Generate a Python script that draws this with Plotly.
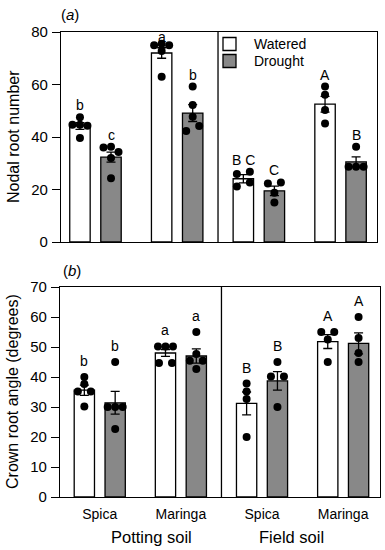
import plotly.graph_objects as go

# ---------------- data ----------------
groups = ["Spica", "Maringa", "Spica", "Maringa"]
soils = ["Potting soil", "Field soil"]
series = ["Watered", "Drought"]

# (a) Nodal root number
nodal_w_mean = [44.2, 72.0, 24.1, 52.5]
nodal_d_mean = [32.3, 49.1, 19.5, 30.5]
nodal_w_err = [1.3, 2.0, 1.6, 3.0]
nodal_d_err = [1.9, 3.2, 1.8, 1.9]
nodal_w_dots = [
    [47.5, 44.7, 44.7, 44.3, 39.6],
    [75.0, 75.5, 75.0, 72.8, 63.0],
    [25.9, 26.8, 21.1, 22.7],
    [59.2, 56.1, 50.3, 45.1],
]
nodal_d_dots = [
    [36.0, 36.3, 34.3, 32.0, 24.3],
    [59.2, 52.2, 47.7, 42.3, 44.2],
    [22.3, 22.7, 18.8, 15.0],
    [36.3, 28.7, 28.7, 28.7],
]
nodal_w_letters = ["b", "a", "B C", "A"]
nodal_d_letters = ["c", "b", "C", "B"]

# (b) Crown root angle
angle_w_mean = [35.6, 48.0, 31.2, 51.8]
angle_d_mean = [31.4, 47.0, 38.7, 51.2]
angle_w_err = [1.7, 1.1, 3.8, 2.3]
angle_d_err = [3.8, 2.4, 3.1, 3.5]
angle_w_dots = [
    [40.0, 37.7, 35.2, 35.2, 30.2],
    [50.2, 50.2, 50.2, 44.7, 44.7],
    [37.8, 35.2, 32.7, 20.0],
    [55.0, 55.0, 52.5, 45.0],
]
angle_d_dots = [
    [45.0, 30.0, 30.0, 30.0, 22.7],
    [55.0, 47.7, 45.4, 45.4, 42.7],
    [45.0, 40.2, 40.2, 30.0],
    [60.0, 53.0, 48.0, 45.0],
]
angle_w_letters = ["b", "a", "B", "A"]
angle_d_letters = ["b", "a", "B", "A"]

# ---------------- layout constants ----------------
W, H = 385, 550
FONT = "Liberation Sans, Arial, sans-serif"
GRAY = "#888888"
COLORS = ["white", GRAY]
LW = 1.3
OFF = 0.19
BW = 0.25

panels = [
    dict(xa="x", ya="y", xdom=[61 / W, 377 / W], ydom=[1 - 242 / H, 1 - 32 / H],
         xr=[-0.422, 3.446], yr=[0, 80], dtick=20,
         wm=nodal_w_mean, dm=nodal_d_mean, we=nodal_w_err, de=nodal_d_err,
         wd=nodal_w_dots, dd=nodal_d_dots, wl=nodal_w_letters, dl=nodal_d_letters,
         lshift=12),
    dict(xa="x2", ya="y2", xdom=[60 / W, 380 / W], ydom=[1 - 497 / H, 1 - 287 / H],
         xr=[-0.49, 3.454], yr=[0, 70], dtick=10,
         wm=angle_w_mean, dm=angle_d_mean, we=angle_w_err, de=angle_d_err,
         wd=angle_w_dots, dd=angle_d_dots, wl=angle_w_letters, dl=angle_d_letters,
         lshift=16),
]


def swarm(vals, ppy, row_px=6.5):
    """Horizontal pixel offsets: points whose values lie within row_px of the
    row's highest point share a row and are spread sideways."""
    order = sorted(range(len(vals)), key=lambda i: -vals[i])
    rows, cur = [], []
    for i in order:
        if cur and (vals[cur[0]] - vals[i]) * ppy > row_px:
            rows.append(cur)
            cur = []
        cur.append(i)
    if cur:
        rows.append(cur)
    offs = [0.0] * len(vals)
    for r in rows:
        r = sorted(r)
        n = len(r)
        sp = 13.0 if n == 2 else 7.5
        for k, i in enumerate(r):
            offs[i] = (k - (n - 1) / 2) * sp
    return offs


fig = go.Figure()
annotations = []
shapes = []

for p in panels:
    ppx = (p["xdom"][1] - p["xdom"][0]) * W / (p["xr"][1] - p["xr"][0])
    ppy = (p["ydom"][1] - p["ydom"][0]) * H / (p["yr"][1] - p["yr"][0])
    idx = list(range(len(groups)))
    for name, sign, means, errs, dots, letters, color in [
        (series[0], -1, p["wm"], p["we"], p["wd"], p["wl"], COLORS[0]),
        (series[1], 1, p["dm"], p["de"], p["dd"], p["dl"], COLORS[1]),
    ]:
        xs = [i + sign * OFF for i in idx]
        fig.add_trace(go.Bar(
            x=xs, y=means, width=BW, name=name, xaxis=p["xa"], yaxis=p["ya"],
            marker=dict(color=color, line=dict(color="black", width=LW)),
            error_y=dict(type="data", array=errs, color="black", thickness=LW, width=4.5),
            showlegend=False,
        ))
        dx, dy = [], []
        for i, vals in enumerate(dots):
            offs = swarm(vals, ppy)
            for v, o in zip(vals, offs):
                dx.append(xs[i] + o / ppx)
                dy.append(v)
        fig.add_trace(go.Scatter(
            x=dx, y=dy, mode="markers", xaxis=p["xa"], yaxis=p["ya"],
            marker=dict(color="black", size=8, line=dict(width=0)),
            showlegend=False, cliponaxis=False, hoverinfo="skip",
        ))
        for i, lab in enumerate(letters):
            top = max(max(dots[i]), means[i] + errs[i])
            ytxt = top + p["lshift"] / ppy
            ytxt = min(ytxt, p["yr"][1] - 5 / ppy)
            annotations.append(dict(
                x=xs[i], y=ytxt, xref=p["xa"], yref=p["ya"], text=lab,
                showarrow=False, font=dict(size=14, color="black", family=FONT),
                xanchor="center", yanchor="middle",
            ))
    shapes.append(dict(type="line", xref=p["xa"], yref=p["ya"], x0=1.5, x1=1.5,
                       y0=p["yr"][0], y1=p["yr"][1], line=dict(color="black", width=LW)))

# legend (drawn manually for exact spacing)
for k, (name, col) in enumerate(zip(series, COLORS)):
    yc = 44 + 17 * k
    shapes.append(dict(type="rect", xref="paper", yref="paper",
                       x0=223 / W, x1=236 / W, y0=1 - (yc + 6.5) / H, y1=1 - (yc - 6.5) / H,
                       fillcolor=col, line=dict(color="black", width=LW)))
    annotations.append(dict(x=252 / W, y=1 - yc / H, xref="paper", yref="paper", text=name,
                            showarrow=False, font=dict(size=14, color="black", family=FONT),
                            xanchor="left", yanchor="middle"))

# axis titles, panel labels and soil labels
annotations += [
    dict(x=14 / W, y=(panels[0]["ydom"][0] + panels[0]["ydom"][1]) / 2, xref="paper", yref="paper",
         text="Nodal root number", textangle=-90, showarrow=False,
         font=dict(size=16, color="black", family=FONT), xanchor="center", yanchor="middle"),
    dict(x=12 / W, y=(panels[1]["ydom"][0] + panels[1]["ydom"][1]) / 2, xref="paper", yref="paper",
         text="Crown root angle (degrees)", textangle=-90, showarrow=False,
         font=dict(size=16, color="black", family=FONT), xanchor="center", yanchor="middle"),
    dict(x=70 / W, y=1 - 15 / H, xref="paper", yref="paper", text="(<i>a</i>)", showarrow=False,
         font=dict(size=15, color="black", family=FONT), xanchor="center", yanchor="middle"),
    dict(x=72 / W, y=1 - 270 / H, xref="paper", yref="paper", text="(<i>b</i>)", showarrow=False,
         font=dict(size=15, color="black", family=FONT), xanchor="center", yanchor="middle"),
    dict(x=151 / W, y=1 - 537 / H, xref="paper", yref="paper", text=soils[0], showarrow=False,
         font=dict(size=16.5, color="black", family=FONT), xanchor="center", yanchor="middle"),
    dict(x=291 / W, y=1 - 537 / H, xref="paper", yref="paper", text=soils[1], showarrow=False,
         font=dict(size=16.5, color="black", family=FONT), xanchor="center", yanchor="middle"),
]

axis_common = dict(showline=True, linecolor="black", linewidth=LW, mirror=True,
                   showgrid=False, zeroline=False)
ytick_common = dict(ticks="outside", ticklen=8, tickwidth=LW, tickcolor="black",
                    ticklabelstandoff=1, tickfont=dict(size=15, color="black"))
p0, p1 = panels
fig.update_layout(
    width=W, height=H, margin=dict(l=0, r=0, t=0, b=0, autoexpand=False),
    paper_bgcolor="white", plot_bgcolor="white", showlegend=False,
    barmode="overlay", font=dict(family=FONT, color="black"),
    xaxis=dict(domain=p0["xdom"], range=p0["xr"], anchor="y", showticklabels=False,
               ticks="", **axis_common),
    yaxis=dict(domain=p0["ydom"], range=p0["yr"], anchor="x", dtick=p0["dtick"],
               **ytick_common, **axis_common),
    xaxis2=dict(domain=p1["xdom"], range=p1["xr"], anchor="y2", tickvals=list(range(len(groups))),
                ticktext=groups, ticks="", ticklabelstandoff=4,
                tickfont=dict(size=14, color="black"), **axis_common),
    yaxis2=dict(domain=p1["ydom"], range=p1["yr"], anchor="x2", dtick=p1["dtick"],
                **ytick_common, **axis_common),
    annotations=annotations, shapes=shapes,
)

fig.write_html("out.html", config={"displayModeBar": False},
               post_script="document.body.style.margin='0';")
